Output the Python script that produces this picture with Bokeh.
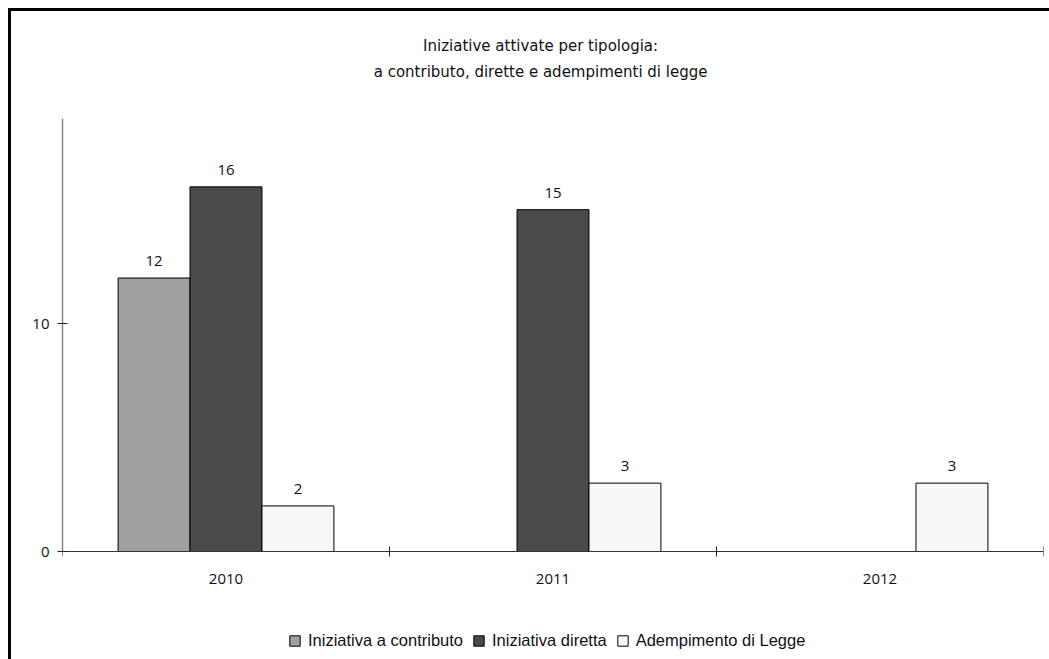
from bokeh.plotting import figure
from bokeh.models import (ColumnDataSource, FixedTicker, LabelSet, Label, Legend,
                          LegendItem, Range1d)
from bokeh.embed import file_html
from bokeh.resources import INLINE
from bokeh.core.properties import value

# ---- data ----
title_lines = ["Iniziative attivate per tipologia:",
               "a contributo, dirette e adempimenti di legge"]
years = ["2010", "2011", "2012"]
series_names = ["Iniziativa a contributo", "Iniziativa diretta", "Adempimento di Legge"]
contributo = [12, None, None]
diretta = [16, 15, None]
adempimento = [2, 3, 3]
y_ticks = [0, 10]
y_max = 19

series_values = [contributo, diretta, adempimento]
colors = ["#a0a0a0", "#4a4a4a", "#f8f8f8"]
offsets = [-0.22, 0.0, 0.22]
bar_w = 0.22

# layout constants (pixels)
W, H = 1049, 659
BOTTOM_BORDER = 6
FRAME_H = H - BOTTOM_BORDER
ZERO_PX, TOP_PX = 551, 118            # screen rows of y=0 and y=y_max
ppu = (ZERO_PX - TOP_PX) / y_max
y_start = -(FRAME_H - ZERO_PX) / ppu
y_end = y_max + TOP_PX / ppu

p = figure(width=W, height=H, output_backend="svg", toolbar_location=None,
           x_range=Range1d(0, len(years)), y_range=Range1d(y_start, y_end),
           min_border_left=62, min_border_right=6, min_border_top=0,
           min_border_bottom=BOTTOM_BORDER)
p.title.visible = False
p.styles = {"background": "linear-gradient(#000,#000) 8px 8px / 3px 100% no-repeat, "
                          "linear-gradient(#000,#000) 8px 8px / 100% 3px no-repeat, #fff"}
p.outline_line_color = None
p.xgrid.visible = False
p.ygrid.visible = False
p.background_fill_alpha = 0
p.border_fill_alpha = 0

NUM_FONT = "Open Sans"

legend_items = []
for name, vals, col, off in zip(series_names, series_values, colors, offsets):
    xs, tops, txt = [], [], []
    for i, v in enumerate(vals):
        if v is None:
            continue
        xs.append(i + 0.5 + off)
        tops.append(v)
        txt.append(str(v))
    src = ColumnDataSource(dict(x=xs, top=tops, text=txt))
    r = p.vbar(x="x", top="top", width=bar_w, source=src, fill_color=col,
               line_color="black", line_width=1)
    legend_items.append(LegendItem(label=name, renderers=[r]))
    p.add_layout(LabelSet(x="x", y="top", text="text", source=src,
                          text_align="center", text_baseline="alphabetic",
                          y_offset=12, text_font=value(NUM_FONT),
                          text_font_size="15px", text_color="#111111"))

# x axis drawn at y=0; ticks at category boundaries
xa = p.xaxis[0]
xa.fixed_location = 0
xa.ticker = FixedTicker(ticks=[i + 0.5 for i in range(len(years))],
                        minor_ticks=list(range(len(years) + 1)))
xa.major_label_overrides = {i + 0.5: "" for i in range(len(years))}
xa.major_label_text_font_size = "0px"
xa.major_label_standoff = 0
xa.major_tick_in = 0
xa.major_tick_out = 0
xa.minor_tick_in = 5
xa.minor_tick_out = 5
xa.minor_tick_line_color = "#222222"
xa.axis_line_color = "#333333"

# category labels under the x axis
cat_src = ColumnDataSource(dict(x=[i + 0.5 for i in range(len(years))],
                                y=[0] * len(years), text=years))
p.add_layout(LabelSet(x="x", y="y", text="text", source=cat_src,
                      text_align="center", text_baseline="alphabetic",
                      y_offset=-32, text_font=value(NUM_FONT),
                      text_font_size="15px", text_color="#111111"))

ya = p.yaxis[0]
ya.bounds = (0, y_max)
ya.ticker = FixedTicker(ticks=y_ticks, minor_ticks=[])
ya.major_tick_in = 5
ya.major_tick_out = 5
ya.major_tick_line_color = "#222222"
ya.minor_tick_line_color = None
ya.axis_line_color = "#888888"
ya.axis_line_width = 1.5
ya.major_label_standoff = 8
ya.major_label_text_font = NUM_FONT
ya.major_label_text_font_size = "15px"
ya.major_label_text_color = "#111111"

# title: two centred lines in the space above the bars
for line, yv in zip(title_lines, [22.16, 21.06]):
    p.add_layout(Label(x=1.462, y=yv, text=line, text_align="center",
                       text_baseline="alphabetic", text_font="DejaVu Sans",
                       text_font_size="15px", text_color="#111111"))

legend = Legend(items=legend_items, orientation="horizontal",
                location=(226, 3), glyph_width=13, glyph_height=13,
                label_standoff=7, spacing=9, padding=0, margin=0,
                label_text_font="Liberation Sans",
                label_text_font_size="16.5px", label_text_color="#111111",
                background_fill_alpha=0, border_line_color=None)
p.add_layout(legend, "center")

open("out.html", "w").write(file_html(p, INLINE))
